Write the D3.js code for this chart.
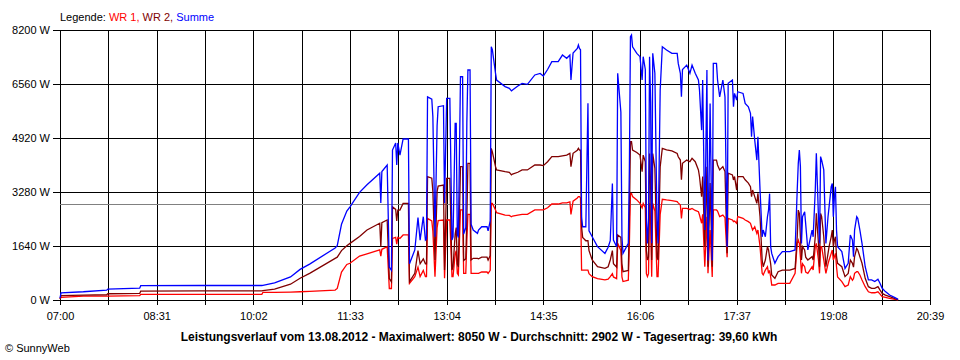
<!DOCTYPE html>
<html><head><meta charset="utf-8">
<script src="https://cdn.jsdelivr.net/npm/d3@7"></script>
<style>
html,body{margin:0;padding:0;background:#fff;}
svg{display:block;font-family:"Liberation Sans",Arial,sans-serif;font-size:11px;}
</style></head>
<body><svg id="chart" width="960" height="360"></svg>
<script>
// ---- data ----
const xTickLabels = ["07:00","08:31","10:02","11:33","13:04","14:35","16:06","17:37","19:08","20:39"];
const yTickValues = [0,1640,3280,4920,6560,8200];
const averageW = 2902;
const legendItems = ["WR 1","WR 2","Summe"];
const titleText = "Leistungsverlauf vom 13.08.2012 - Maximalwert: 8050 W - Durchschnitt: 2902 W - Tagesertrag: 39,60 kWh";
const creditText = "\u00A9 SunnyWeb";

const times = ["07:00","07:01","07:22","07:44","07:45","08:15","08:16","09:12","10:10","10:11","10:22","10:37","10:46","10:55",
"11:19","11:21","11:25","11:30","11:33","11:42","11:49","12:01","12:02","12:03","12:08","12:10","12:12","12:13","12:16","12:17",
"12:18","12:20","12:23","12:28","12:29","12:34","12:37","12:39","12:42","12:44","12:45","12:46","12:50","12:51","12:53","12:55",
"12:56","13:01","13:02","13:04","13:07","13:09","13:10","13:12","13:13","13:14","13:15","13:17","13:19","13:20","13:22","13:23",
"13:24","13:26","13:27","13:29","13:33","13:34","13:37","13:42","13:43","13:45","13:46","13:47","13:50","13:51","13:59","14:03",
"14:05","14:06","14:11","14:15","14:20","14:27","14:32","14:35","14:39","14:43","14:49","14:53","14:57","15:00","15:01","15:03",
"15:07","15:08","15:09","15:10","15:11","15:12","15:15","15:17","15:18","15:21","15:26","15:33","15:36","15:38","15:40","15:41",
"15:44","15:45","15:48","15:49","15:50","15:55","15:56","15:57","15:58","15:59","16:03","16:06","16:08","16:09","16:11","16:12",
"16:13","16:14","16:15","16:16","16:17","16:18","16:20","16:22","16:23","16:25","16:27","16:31","16:36","16:41","16:42","16:44",
"16:45","16:46","16:50","16:53","16:55","16:58","17:01","17:02","17:04","17:05","17:07","17:09","17:10","17:12","17:14","17:15",
"17:18","17:19","17:21","17:24","17:26","17:28","17:29","17:33","17:34","17:35","17:37","17:38","17:43","17:45","17:48","17:50",
"17:51","17:52","17:54","17:56","17:57","17:59","18:01","18:02","18:04","18:06","18:07","18:08","18:09","18:10","18:13","18:16",
"18:20","18:27","18:32","18:34","18:35","18:36","18:37","18:38","18:39","18:41","18:42","18:44","18:48","18:49","18:51","18:52",
"18:54","18:55","18:56","18:57","18:59","19:01","19:03","19:04","19:06","19:07","19:08","19:09","19:10","19:11","19:12","19:16",
"19:19","19:22","19:24","19:26","19:27","19:28","19:30","19:31","19:33","19:35","19:38","19:41","19:44","19:47","19:50","19:52",
"19:54","19:57","20:01","20:06","20:09"];

const summe = [60,220,250,300,330,360,435,440,440,445,520,700,930,1090,
1580,1650,2300,2700,2830,3270,3500,3850,2950,3900,4100,1000,900,4555,4770,4100,
4770,4400,4890,4890,1100,1520,2500,1820,2530,1820,1850,6170,6100,5570,1920,5300,
5870,5900,2940,6125,6125,1820,1920,5365,5365,2000,1900,6780,6780,2000,2200,5400,
6985,6985,2300,2125,2025,2125,2225,2225,2100,2400,7690,7600,6885,6680,6480,6430,
6350,6380,6500,6580,6550,6835,6880,6800,7000,7240,7240,7440,7340,7440,6680,7500,
7640,7745,7640,7600,2500,2225,2225,5975,2100,1920,1620,1415,1600,1800,3540,1820,
1620,6885,5700,1920,1415,1720,4000,8000,8050,7690,7490,7390,6680,7390,7000,2500,
1720,2400,7390,6000,1720,7490,6885,2400,1720,6380,7690,7590,7490,7490,7185,6885,
6170,7000,7135,6885,7135,6885,6680,6380,5160,6680,2125,6985,1200,5970,1200,7185,
7185,6680,6170,6680,6170,1620,6580,6680,5870,6275,6070,6325,6275,5970,5870,5670,
4960,5570,4860,4250,4960,3340,1920,2125,1920,2530,2730,3230,1620,1415,1115,1315,
1470,1470,1520,3340,4150,4555,4050,1720,2530,2680,2300,1520,2125,1920,3340,4455,
2530,1720,4355,4250,3950,1720,2530,2830,3440,3540,2530,3140,3440,2125,1620,1470,
960,1115,1975,1820,1315,2125,2530,2480,2125,1720,1010,610,610,560,630,500,
355,255,150,70,20];

const wr2 = [30,130,150,160,190,200,270,280,280,285,330,480,660,810,
1265,1300,1500,1650,1720,1930,2125,2330,1620,2350,2430,650,550,2830,2750,2400,
2730,2730,2935,2935,560,810,1500,1100,1250,1100,1100,3745,3700,3300,1215,3300,
3460,3490,910,3695,3695,910,1010,2000,2200,1100,1000,4050,4050,1200,1250,2500,
4150,4150,1215,1265,1265,1250,1300,1300,1215,1350,4605,4500,4050,3950,3900,3880,
3800,3825,3880,3950,3950,4100,4100,4080,4200,4355,4355,4380,4400,4455,4050,4455,
4550,4605,4550,4550,2225,1900,1800,1800,1500,1215,1010,960,1010,1215,1500,1100,
1000,1975,1900,1100,860,900,2500,4810,4810,4555,4480,4400,3900,4400,4200,1500,
1215,1300,4450,3500,1215,4450,4000,1300,1215,4050,4605,4560,4530,4450,4350,4250,
3650,4150,4250,4200,4300,4200,3950,3750,3140,3750,1620,4050,1010,3550,1010,4250,
4250,4100,3950,4050,3900,1420,3850,3800,3645,3750,3340,3745,3745,3650,3550,3440,
3140,3340,3140,2935,3240,2530,1215,1010,1215,1620,1520,1300,1100,760,660,860,
910,910,960,1920,2730,2630,1920,1215,1620,1520,1300,1215,1315,1215,1920,2630,
1720,1010,2630,2530,1920,1010,1415,1620,1920,2125,1620,1820,1920,1315,1115,1010,
710,810,1215,1115,1000,1315,1570,1520,1315,1115,660,405,355,355,405,300,
200,150,100,40,10];

const wr1 = [30,80,120,120,120,130,170,170,170,230,230,240,250,260,
300,350,850,1080,1115,1335,1400,1520,1330,1540,1620,350,350,1870,1900,1700,
1900,1870,1975,1975,505,710,1000,710,900,710,710,2480,2400,2100,710,2200,
2410,2430,660,2430,2430,710,710,1400,1500,810,760,2735,2735,810,810,1800,
2600,2600,810,810,810,810,850,850,810,900,2935,2935,2735,2650,2580,2570,
2530,2550,2580,2600,2600,2735,2740,2735,2800,2915,2915,2950,2950,2980,2600,3000,
3100,3140,3140,3100,910,910,910,910,800,710,650,610,630,710,800,700,
650,1720,1500,700,560,600,1700,3240,3240,3140,3040,2935,2800,2935,2800,800,
710,800,2935,2400,710,2935,2700,710,710,2600,3060,3040,3020,2985,2950,2885,
2480,2780,2780,2750,2780,2720,2680,2580,2330,2600,1010,2530,810,2125,700,2735,
2735,2700,2530,2580,2500,1300,2480,2430,2380,2400,2330,2530,2480,2430,2380,2330,
2225,2125,2225,2025,2125,1620,810,760,910,1010,810,900,700,455,455,505,
505,505,810,1720,1820,1720,1310,810,1100,1010,850,810,1010,910,1620,1720,
1215,810,1620,1620,1215,810,1100,1215,1415,1520,1215,1315,1415,1010,700,560,
405,455,710,600,650,810,860,860,760,610,405,250,220,220,250,180,
100,80,50,20,5];

// ---- chart ----
const svg = d3.select("#chart");
const M = {left:60, right:930, top:30, bottom:300};
const toMin = s => { const [h,m] = s.split(":").map(Number); return h*60+m; };

const x = d3.scaleLinear()
  .domain([toMin(xTickLabels[0]), toMin(xTickLabels[xTickLabels.length-1])])
  .range([M.left, M.right]);
const y = d3.scaleLinear().domain([0, d3.max(yTickValues)]).range([M.bottom, M.top]);

// grid tick values: labelled ticks plus midpoints
const labelMins = xTickLabels.map(toMin);
const gridMins = [];
labelMins.forEach((m,i)=>{ gridMins.push(m); if(i<labelMins.length-1) gridMins.push((m+labelMins[i+1])/2); });
const labelSet = new Map(labelMins.map((m,i)=>[m, xTickLabels[i]]));

// x axis (vertical grid lines)
const xAxis = d3.axisBottom(x).tickValues(gridMins)
  .tickFormat(m => labelSet.get(m) || "").tickSizeOuter(0).tickSizeInner(5).tickPadding(7);
const gx = svg.append("g").attr("transform",`translate(0,${M.bottom})`).call(xAxis);
gx.select(".domain").remove();
gx.selectAll(".tick line").attr("y1", -(M.bottom-M.top)).attr("y2",5).attr("stroke","#000").attr("shape-rendering","crispEdges");
gx.selectAll(".tick text").attr("fill","#000").style("font-size","11px").style("font-family","Liberation Sans, Arial, sans-serif");

// y axis (horizontal grid lines)
const yAxis = d3.axisLeft(y).tickValues(yTickValues).tickFormat(v => `${v} W`)
  .tickSizeOuter(0).tickSizeInner(7).tickPadding(3);
const gy = svg.append("g").attr("transform",`translate(${M.left},0)`).call(yAxis);
gy.select(".domain").remove();
gy.selectAll(".tick line").attr("x1",-7).attr("x2", M.right-M.left).attr("stroke","#000").attr("shape-rendering","crispEdges");
gy.selectAll(".tick text").attr("fill","#000").style("font-size","11px").style("font-family","Liberation Sans, Arial, sans-serif");

// average line
svg.append("line").attr("x1",M.left).attr("x2",M.right)
  .attr("y1",Math.round(y(averageW))+0.5).attr("y2",Math.round(y(averageW))+0.5)
  .attr("stroke","#808080").attr("stroke-width",1);

// series
const series = [
  {name:legendItems[0], values:wr1, color:"#ff0000"},
  {name:legendItems[1], values:wr2, color:"#800000"},
  {name:legendItems[2], values:summe, color:"#0000ff"}
];
const line = d3.line().x(d=>x(d[0])).y(d=>y(d[1]));
series.forEach(s=>{
  const pts = times.map((t,i)=>[toMin(t), s.values[i]]);
  svg.append("path").attr("d", line(pts)).attr("fill","none")
    .attr("stroke", s.color).attr("stroke-width",1.3).attr("stroke-linejoin","miter");
});

// legend
const leg = svg.append("text").attr("x",M.left).attr("y",21).style("font-size","11px");
leg.append("tspan").attr("fill","#000").text("Legende: ");
series.forEach((s,i)=>{
  leg.append("tspan").attr("fill",s.color).text(s.name + (i<series.length-1 ? ", " : ""));
});

// title
svg.append("text").attr("x",479).attr("y",341).attr("text-anchor","middle")
  .style("font-size","12px").style("font-weight","bold").attr("fill","#000").text(titleText);

// credit
svg.append("text").attr("x",5).attr("y",352).style("font-size","11px").attr("fill","#000").text(creditText);
</script>
</body></html>
